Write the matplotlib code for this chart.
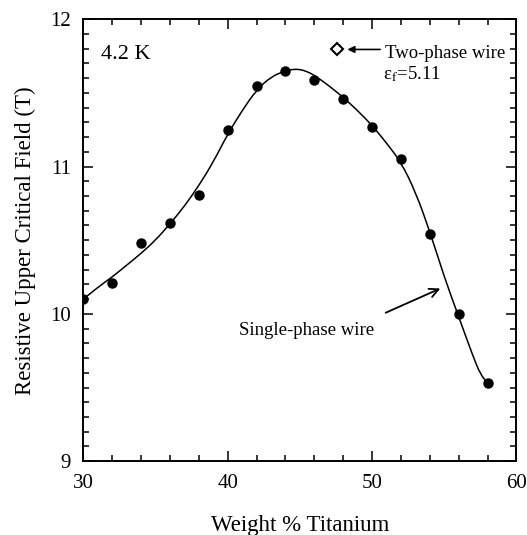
import matplotlib
matplotlib.use('Agg')
from matplotlib import pyplot as plt
from matplotlib.path import Path
from matplotlib.patches import PathPatch
from matplotlib.ticker import MultipleLocator

plt.rcParams['font.family'] = ['Liberation Serif', 'DejaVu Serif']
plt.rcParams['mathtext.fontset'] = 'stix'

# measured points (single-phase wire)
ti_wt = [30, 32, 34, 36, 38, 40, 42, 44, 46, 48, 50, 52, 54, 56, 58]
hc2 = [10.10, 10.21, 10.48, 10.62, 10.81, 11.25, 11.55, 11.65, 11.59, 11.46,
       11.27, 11.05, 10.54, 10.00, 9.53]

# fitted curve
curve_x = [30, 31, 32, 33, 34, 35, 36, 37, 38, 39, 40, 41, 42, 43, 44, 44.5, 45,
           45.5, 46, 47, 48, 49, 50, 51, 52, 53, 54, 55, 56, 57, 57.5, 58]
curve_y = [10.10, 10.18, 10.25, 10.33, 10.41, 10.50, 10.61, 10.73, 10.87, 11.03,
           11.22, 11.38, 11.52, 11.61, 11.65, 11.66, 11.66, 11.645, 11.62, 11.55,
           11.47, 11.38, 11.28, 11.16, 11.03, 10.83, 10.56, 10.25, 9.98, 9.71,
           9.59, 9.53]

# two-phase wire
two_phase_x = [47.6]
two_phase_y = [11.80]


def smooth_path(xs, ys):
    # quadratic bezier through midpoints, readings used as control points
    verts = [(xs[0], ys[0])]
    codes = [Path.MOVETO]
    for i in range(1, len(xs) - 1):
        mx = (xs[i] + xs[i + 1]) / 2
        my = (ys[i] + ys[i + 1]) / 2
        verts += [(xs[i], ys[i]), (mx, my)]
        codes += [Path.CURVE3, Path.CURVE3]
    verts.append((xs[-1], ys[-1]))
    codes.append(Path.LINETO)
    return Path(verts, codes)


fig = plt.figure(figsize=(5.27, 5.35), dpi=100)
ax = fig.add_axes([0.158, 0.138, 0.822, 0.826])

ax.add_patch(PathPatch(smooth_path(curve_x, curve_y), fill=False,
                       edgecolor='black', lw=1.1))
ax.plot(ti_wt, hc2, 'o', color='black', ms=6.5)
ax.plot(two_phase_x, two_phase_y, 'D', mfc='white', mec='black', mew=1.5, ms=6.3)

ax.set_xlim(30, 60)
ax.set_ylim(9, 12)
ax.xaxis.set_major_locator(MultipleLocator(10))
ax.xaxis.set_minor_locator(MultipleLocator(2))
ax.yaxis.set_major_locator(MultipleLocator(1))
ax.yaxis.set_minor_locator(MultipleLocator(0.1))
ax.tick_params(which='both', direction='in', top=True, right=True, width=1.1)
ax.tick_params(which='major', length=7, labelsize=15, pad=9)
ax.tick_params(which='minor', length=4)
for s in ax.spines.values():
    s.set_linewidth(1.4)

ax.set_xlabel('Weight % Titanium', fontsize=16.5, labelpad=16)
ax.set_ylabel('Resistive Upper Critical Field (T)', fontsize=16.5, labelpad=10)

ax.text(31.2, 11.76, '4.2 K', fontsize=16, va='center', ha='left')
ax.text(50.9, 11.77, 'Two-phase wire', fontsize=13.5, va='center', ha='left')
ax.text(50.75, 11.63, 'ε$_{\\rm f}$=5.11', fontsize=13.5, va='center', ha='left')
ax.annotate('', xy=(48.1, 11.795), xytext=(50.75, 11.795),
            arrowprops=dict(arrowstyle='-|>', color='black', lw=1.2,
                            mutation_scale=10))
ax.text(40.8, 9.886, 'Single-phase wire', fontsize=13.5, va='center', ha='left')
ax.annotate('', xy=(54.9, 10.18), xytext=(50.77, 10.0),
            arrowprops=dict(arrowstyle='->', color='black', lw=1.3,
                            mutation_scale=16))

fig.savefig('out.png', dpi=100)
